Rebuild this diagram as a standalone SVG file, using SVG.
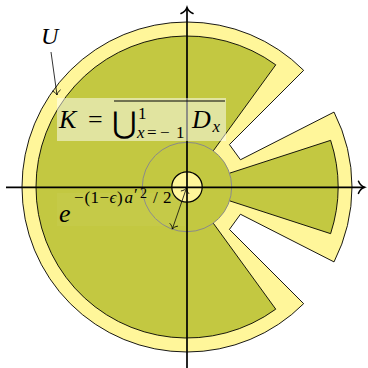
<svg xmlns="http://www.w3.org/2000/svg" width="368" height="368" viewBox="0 0 368 368">
<defs>
<style>
.u{fill:#fff69a;stroke:#000;stroke-width:0.9;stroke-linejoin:miter}
.k{fill:#c3c841}
.kedge{fill:none;stroke:#000;stroke-width:0.9}
.ax{stroke:#000;stroke-width:1.7;fill:none}
.thin{stroke:#000;stroke-width:0.8;fill:none}
.t{font-family:"Liberation Serif","Times New Roman",serif;fill:#000}
.i{font-style:italic}
</style>
<marker id="axh" viewBox="-10 -8 14 16" markerWidth="14" markerHeight="16" refX="0" refY="0" orient="auto" markerUnits="userSpaceOnUse" overflow="visible">
<path d="M-6,-6 C-4.5,-2.5 -2,-0.7 0,0 C-2,0.7 -4.5,2.5 -6,6" fill="none" stroke="#000" stroke-width="1.6" stroke-linecap="round"/>
</marker>
<marker id="sh" viewBox="-8 -6 10 12" markerWidth="10" markerHeight="12" refX="0" refY="0" orient="auto-start-reverse" markerUnits="userSpaceOnUse" overflow="visible">
<path d="M-4.5,-4 C-3.3,-1.7 -1.5,-0.5 0,0 C-1.5,0.5 -3.3,1.7 -4.5,4" fill="none" stroke="#000" stroke-width="0.8" stroke-linecap="round"/>
</marker>
</defs>
<rect width="368" height="368" fill="#fff"/>
<g id="U-region">
<path class="u" d="M303.67,70.33 A165,165 0 1 0 303.67,303.67 L229.43,229.43 L240.46,214.24 L334.02,261.91 A165,165 0 0 0 334.02,112.09 L240.46,159.76 L229.43,144.57 Z"/>
</g>
<g id="K-region">
<path class="k" d="M275.76,64.84 A151,151 0 1 0 275.76,309.16 L213.27,223.16 A44.7,44.7 0 0 0 229.51,200.81 L330.61,233.66 A151,151 0 0 0 330.61,140.34 L229.51,173.19 A44.7,44.7 0 0 0 213.27,150.84 Z"/>
<path class="kedge" d="M213.27,150.84 L275.76,64.84 A151,151 0 1 0 275.76,309.16 L213.27,223.16 M229.51,200.81 L330.61,233.66 A151,151 0 0 0 330.61,140.34 L229.51,173.19"/>
</g>
<g id="gray-circle">
<circle cx="187" cy="187" r="44.7" fill="none" stroke="#8a8a8a" stroke-width="1"/>
</g>
<g id="small-circle">
<circle cx="187" cy="187" r="15.2" fill="#fff69a" stroke="#000" stroke-width="1.2"/>
</g>
<g id="connectors">
<line class="ax" x1="187" y1="368" x2="187" y2="7.5" marker-end="url(#axh)"/>
<line class="ax" x1="6" y1="187.3" x2="364.5" y2="187.3" marker-end="url(#axh)"/>
<line class="thin" x1="51" y1="52" x2="57" y2="95" marker-end="url(#sh)"/>
<line class="thin" x1="186.5" y1="188" x2="172.3" y2="229.1" marker-start="url(#sh)" marker-end="url(#sh)"/>
</g>
<g id="label-U">
<text class="t i" x="41" y="44" font-size="24">U</text>
</g>
<g id="label-K">
<rect x="57" y="98" width="169" height="43" fill="#fff" fill-opacity="0.5"/>
<line x1="114" y1="101" x2="225" y2="101" stroke="#000" stroke-width="1"/>
<text class="t i" x="59" y="128" font-size="26">K</text>
<text class="t" x="88" y="128" font-size="26">=</text>
<text x="112" y="133" font-size="30" font-family="DejaVu Serif, DejaVu Sans, serif" fill="#000">⋃</text>
<text class="t" x="138" y="119" font-size="17">1</text>
<text class="t" y="137.5" font-size="17"><tspan class="i" x="137">x</tspan><tspan x="147">=</tspan><tspan x="160">−</tspan><tspan x="176">1</tspan></text>
<text class="t i" x="192" y="128" font-size="26">D</text>
<text class="t i" x="212.5" y="132" font-size="17">x</text>
</g>
<g id="label-radius">
<rect x="57" y="193" width="128" height="33" fill="#fff" fill-opacity="0.04"/>
<text class="t i" x="59" y="222" font-size="26">e</text>
<text class="t" y="203" font-size="17"><tspan x="74">−</tspan><tspan x="84.5">(</tspan><tspan x="90.5">1</tspan><tspan x="99.5">−</tspan><tspan class="i" x="109.5">ϵ</tspan><tspan x="117">)</tspan><tspan class="i" x="124.5">a</tspan><tspan x="134" y="200">′</tspan><tspan x="140" y="198" font-size="14">2</tspan><tspan x="153" y="203">/</tspan><tspan x="163" y="203">2</tspan></text>
</g>
</svg>
